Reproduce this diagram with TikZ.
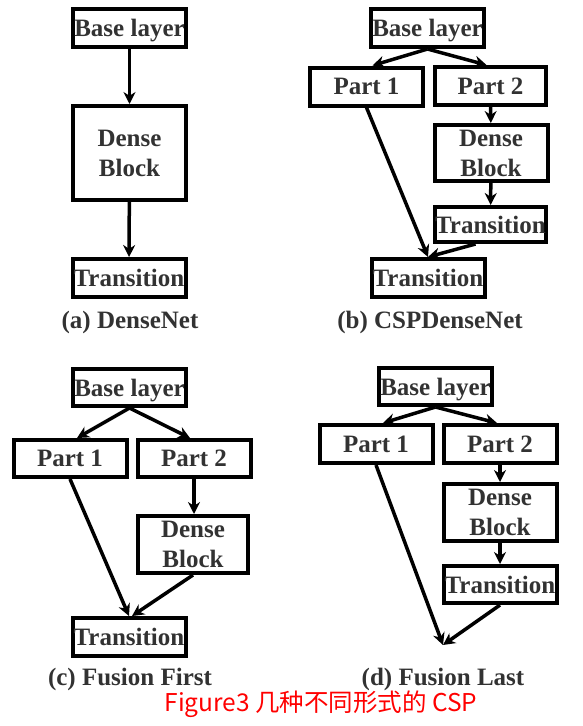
\documentclass[tikz,border=0pt]{standalone}
\usepackage{fontspec}
\setmainfont{Liberation Serif}
\newfontfamily\cjk{Noto Sans CJK SC}
\usetikzlibrary{positioning,arrows.meta}

\definecolor{txtgray}{RGB}{50,50,50}
\definecolor{capred}{RGB}{255,0,0}

\begin{document}
\begin{tikzpicture}[x=1pt,y=-1pt,font=\fontsize{25}{30}\selectfont\bfseries]
   \tikzstyle{arrow} = [line width=3.5pt,-{Stealth[length=12pt,width=12pt]}]
   \tikzset{layer/.style = {rectangle, draw, line width=4pt, text=txtgray, inner sep=0pt, align=center, minimum width=113pt, minimum height=38pt}, }
   \tikzset{block/.style = {layer, minimum height=57pt}, }
   \tikzset{base/.style = {layer, text depth=0pt}, }
   \tikzset{caption/.style = {text=txtgray, inner sep=0pt} }
   \useasboundingbox (0,0) rectangle (583,726);

   % (a) DenseNet
   \node[base] (aBase) at (129.5,28) {Base layer};
   \node[block, minimum height=94pt] (aDense) at (129.5,153) {Dense\\Block};
   \node[layer] (aTrans) at (129,278) {Transition};
   \node[caption] (aCap) at (130,322) {(a) DenseNet};
   \draw[arrow] (aBase) -- (aDense);
   \draw[arrow] (aDense) -- (aTrans);

   % (b) CSPDenseNet
   \node[base] (bBase) at (427.5,28) {Base layer};
   \node[layer] (bP1) at (366.5,86.5) {Part 1};
   \node[layer, minimum width=111pt] (bP2) at (490.5,86) {Part 2};
   \node[block, minimum height=56pt] (bDense) at (491,153) {Dense\\Block};
   \node[layer, minimum width=111pt, minimum height=35pt] (bTr2) at (490.5,224.5) {Transition};
   \node[layer] (bTrans) at (428,278) {Transition};
   \node[caption] (bCap) at (430,322) {(b) CSPDenseNet};
   \draw[arrow] (bBase.south) -- ([xshift=6pt]bP1.north);
   \draw[arrow] (bBase.south) -- ([xshift=-4pt]bP2.north);
   \draw[arrow] (bP2) -- (bDense);
   \draw[arrow] (bDense) -- (bTr2);
   \draw[arrow] (bP1.south) -- (bTrans.north);
   \draw[arrow] ([xshift=-15pt]bTr2.south) -- (bTrans.north);

   % (c) Fusion First
   \node[base, minimum height=37pt] (cBase) at (129.5,387.5) {Base layer};
   \node[layer, minimum height=37pt] (cP1) at (70,458.5) {Part 1};
   \node[layer, minimum height=37pt] (cP2) at (194,458.5) {Part 2};
   \node[block, minimum width=110pt] (cDense) at (193,544.5) {Dense\\Block};
   \node[layer] (cTrans) at (129,637) {Transition};
   \node[caption] (cCap) at (130,679) {(c) Fusion First};
   \draw[arrow] (cBase.south) -- ([xshift=7pt]cP1.north);
   \draw[arrow] (cBase.south) -- ([xshift=-4pt]cP2.north);
   \draw[arrow] (cP2.south) -- (cDense.north -| cP2.south);
   \draw[arrow] (cP1.south) -- (cTrans.north);
   \draw[arrow] (cDense.south) -- ([xshift=3pt]cTrans.north);

   % (d) Fusion Last
   \node[base, minimum height=37pt] (dBase) at (435.5,386.5) {Base layer};
   \node[layer] (dP1) at (376,444) {Part 1};
   \node[layer] (dP2) at (500,444) {Part 2};
   \node[block] (dDense) at (500,512.5) {Dense\\Block};
   \node[layer, minimum height=37pt] (dTrans) at (500,584.5) {Transition};
   \coordinate (dJoin) at (443,645);
   \node[caption] (dCap) at (443,679) {(d) Fusion Last};
   \draw[arrow] (dBase.south) -- ([xshift=7pt]dP1.north);
   \draw[arrow] (dBase.south) -- ([xshift=-3pt]dP2.north);
   \draw[arrow] (dP2) -- (dDense);
   \draw[arrow] (dDense) -- (dTrans);
   \draw[arrow] (dP1.south) -- (dJoin);
   \draw[arrow] (dTrans.south) -- (dJoin);

   \node[text=capred, inner sep=0pt, font=\cjk\fontsize{24.5}{26}\selectfont] (title) at (321,704) {Figure3 几种不同形式的 CSP};
\end{tikzpicture}
\end{document}
